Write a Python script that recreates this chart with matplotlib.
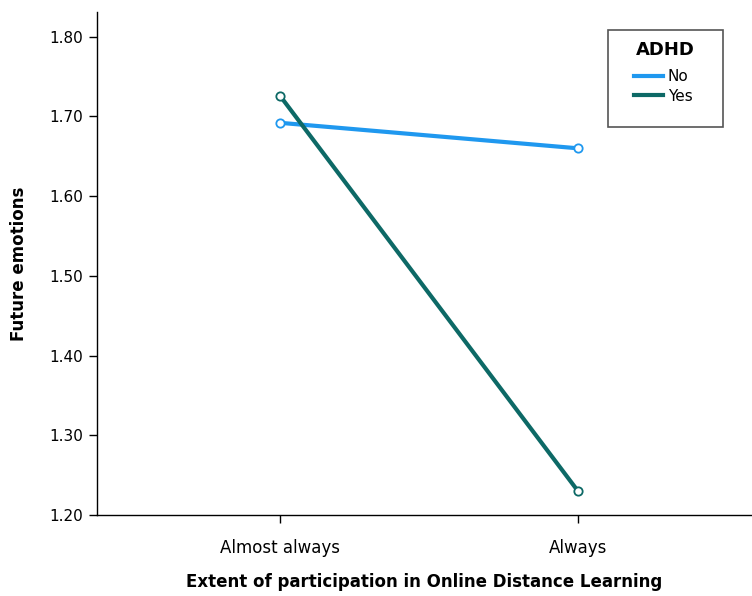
import matplotlib
matplotlib.use("Agg")
import matplotlib.pyplot as plt
from matplotlib.lines import Line2D
from matplotlib.patches import Rectangle

plt.rcParams['font.family'] = ['DejaVu Sans']

categories = ["Almost always", "Always"]
no_adhd = [1.692, 1.660]
yes_adhd = [1.726, 1.230]
yticks = [1.20, 1.30, 1.40, 1.50, 1.60, 1.70, 1.80]

fig = plt.figure(figsize=(7.52, 5.96), dpi=100)
ax = fig.add_axes([97/752, 81/596, 1 - 97/752, (515-12)/596])

x = list(range(len(categories)))
c_no = "#1f98ef"
c_yes = "#0d6966"
ax.plot(x, no_adhd, color=c_no, lw=3, marker='o', ms=6, mfc='white', mec=c_no, mew=1.3, label="No", zorder=3)
ax.plot(x, yes_adhd, color=c_yes, lw=3, marker='o', ms=6, mfc='white', mec=c_yes, mew=1.3, label="Yes", zorder=3)

ax.set_xlim(-0.614, 1.584)
ax.set_ylim(1.20, 1.831)
ax.set_xticks(x)
ax.set_xticklabels(categories, fontsize=12)
ax.set_yticks(yticks)
ax.set_yticklabels([f"{v:.2f}" for v in yticks], fontsize=11)
ax.spines['top'].set_visible(False)
ax.spines['right'].set_visible(False)
for s in ['left', 'bottom']:
    ax.spines[s].set_linewidth(1.0)
    ax.spines[s].set_color('black')
ax.tick_params(axis='both', direction='out', length=6, width=1, colors='black')
ax.tick_params(axis='x', pad=11)
ax.tick_params(axis='y', pad=4)

ax.set_xlabel("Extent of participation in Online Distance Learning", fontsize=12, fontweight='bold', labelpad=12)
ax.set_ylabel("Future emotions", fontsize=12, fontweight='bold', labelpad=15)

# legend box
fig.patches.append(Rectangle((608/752, 1 - 127/596), 115/752, 97/596, transform=fig.transFigure,
                             facecolor='white', edgecolor='#555555', lw=1.2, zorder=5))
fig.text(665/752, 1 - 50/596, "ADHD", ha='center', va='center', fontsize=13,
         fontweight='bold', zorder=7)
handles = [Line2D([0], [0], color=c_no, lw=3), Line2D([0], [0], color=c_yes, lw=3)]
leg = fig.legend(handles, ["No", "Yes"], loc='center left',
                 bbox_to_anchor=(634/752, 1 - 86.5/596), frameon=False,
                 fontsize=11, handlelength=1.9, handletextpad=0.3, labelspacing=0.28,
                 borderpad=0, borderaxespad=0)
leg.set_zorder(6)

fig.savefig("out.png", dpi=100)
